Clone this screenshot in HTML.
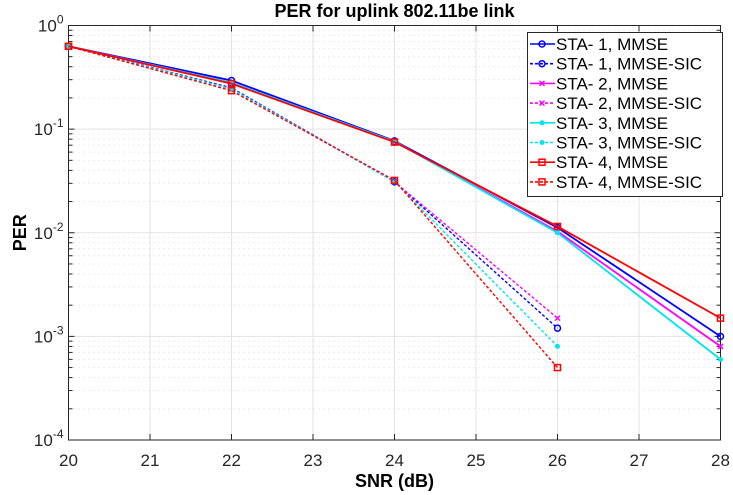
<!DOCTYPE html>
<html><head><meta charset="utf-8"><style>
body{margin:0;background:#fff;}
svg{display:block;font-family:"Liberation Sans",Arial,sans-serif;}
</style></head><body>
<svg id="c" width="733" height="495"></svg>
<script>
const snr=[20,22,24,26,28];
const sta1Mmse=[0.63,0.295,0.077,0.0112,0.001];
const sta1Sic=[0.63,0.25,0.031,0.0012];
const sta2Mmse=[0.63,0.28,0.076,0.0103,0.0008];
const sta2Sic=[0.63,0.245,0.031,0.0015];
const sta3Mmse=[0.63,0.28,0.076,0.0100,0.0006];
const sta3Sic=[0.63,0.245,0.031,0.0008];
const sta4Mmse=[0.63,0.275,0.075,0.0115,0.0015];
const sta4Sic=[0.63,0.235,0.032,0.0005];
const xTicks=[20,21,22,23,24,25,26,27,28];
const yExps=[0,-1,-2,-3,-4];
const legendLabels=["STA- 1, MMSE","STA- 1, MMSE-SIC","STA- 2, MMSE","STA- 2, MMSE-SIC","STA- 3, MMSE","STA- 3, MMSE-SIC","STA- 4, MMSE","STA- 4, MMSE-SIC"];

const L=68.5,R=720.5,T=25.5,B=440;
const X=v=>L+(v-20)/8*(R-L);
const Y=v=>T+(0-Math.log10(v))/4*(B-T);
const svg=document.getElementById('c');
const NS='http://www.w3.org/2000/svg';
function mk(tag,a,parent){const e=document.createElementNS(NS,tag);for(const k in a)e.setAttribute(k,a[k]);(parent||svg).appendChild(e);return e;}

const grid=mk('g',{});


for(let e=0;e>-4;e--){for(let m=2;m<=9;m++){const y=Y(m*Math.pow(10,e-1));mk('line',{x1:L,x2:R,y1:y,y2:y,stroke:'#d8d8d8','stroke-dasharray':'1,4'},grid);}}
xTicks.forEach(t=>{mk('line',{x1:X(t),x2:X(t),y1:T,y2:B,stroke:'#e3e3e3'},grid);});
yExps.forEach(e=>{const y=Y(Math.pow(10,e));mk('line',{x1:L,x2:R,y1:y,y2:y,stroke:'#e3e3e3'},grid);});

const ax=mk('rect',{x:L,y:T,width:R-L,height:B-T,fill:'none',stroke:'#262626'});


xTicks.forEach(t=>{
 mk('line',{x1:X(t),x2:X(t),y1:B,y2:B-6,stroke:'#262626'});
 mk('line',{x1:X(t),x2:X(t),y1:T,y2:T+6,stroke:'#262626'});
 const tx=mk('text',{x:X(t),y:B+26,'text-anchor':'middle','font-size':17,fill:'#262626'});
 tx.textContent=t;
 
 
});
for(let e=0;e>-4;e--){for(let m=2;m<=9;m++){const y=Y(m*Math.pow(10,e-1));mk('line',{x1:L,x2:L+4,y1:y,y2:y,stroke:'#262626'});mk('line',{x1:R,x2:R-4,y1:y,y2:y,stroke:'#262626'});}}
yExps.forEach(e=>{
 const y=Y(Math.pow(10,e));
 mk('line',{x1:L,x2:L+6,y1:y,y2:y,stroke:'#262626'});
 mk('line',{x1:R,x2:R-6,y1:y,y2:y,stroke:'#262626'});
 const tx=mk('text',{x:L-5,y:y+6,'text-anchor':'end','font-size':17,fill:'#262626'});
 tx.innerHTML='10<tspan dy="-8" font-size="12">'+e+'</tspan>';
 
 
});
const title=mk('text',{x:(L+R)/2,y:17,'text-anchor':'middle','font-size':18,'font-weight':'bold',fill:'#000'});
title.textContent='PER for uplink 802.11be link';


const xt=mk('text',{x:(L+R)/2,y:487,'text-anchor':'middle','font-size':18,'font-weight':'bold',fill:'#000'});
xt.textContent='SNR (dB)';


const yt=mk('text',{x:0,y:0,'text-anchor':'middle','font-size':18,'font-weight':'bold',fill:'#000',transform:'translate(26,'+((T+B)/2)+') rotate(-90)'});
yt.textContent='PER';



function marker(g,type,x,y,c){
 if(type==='o')mk('circle',{cx:x,cy:y,r:3,fill:'none',stroke:c,'stroke-width':1.5},g);
 else if(type==='x'){mk('path',{d:`M${x-2.5},${y-2.5}L${x+2.5},${y+2.5}M${x-2.5},${y+2.5}L${x+2.5},${y-2.5}`,stroke:c,'stroke-width':1.5},g);}
 else if(type==='d')mk('circle',{cx:x,cy:y,r:2.5,fill:c},g);
 else mk('rect',{x:x-3,y:y-3,width:6,height:6,fill:'none',stroke:c,'stroke-width':1.5},g);
}
const series=[
 [sta1Mmse,'#0000ff','','o'],[sta1Sic,'#0000ff','3,2','o'],
 [sta2Mmse,'#ff00ff','','x'],[sta2Sic,'#ff00ff','3,2','x'],
 [sta3Mmse,'#00e5ee','','d'],[sta3Sic,'#00e5ee','3,2','d'],
 [sta4Mmse,'#ff0000','','s'],[sta4Sic,'#ff0000','3,2','s']];
const names=['sta1-mmse','sta1-mmse-sic','sta2-mmse','sta2-mmse-sic','sta3-mmse','sta3-mmse-sic','sta4-mmse','sta4-mmse-sic'];
series.forEach((s,i)=>{
 const g=mk('g',{});
 
 
 const pts=s[0].map((v,j)=>X(snr[j])+','+Y(v)).join(' ');
 mk('polyline',{points:pts,fill:'none',stroke:s[1],'stroke-width':s[2]?1.4:1.8,'stroke-dasharray':s[2]},g);
 s[0].forEach((v,j)=>marker(g,s[3],X(snr[j]),Y(v),s[1]));
});

const lg=mk('g',{});


mk('rect',{x:527.5,y:32.5,width:195,height:164,fill:'#fff',stroke:'#262626'},lg);
series.forEach((s,i)=>{
 const y=44+i*19.7;
 const e=mk('g',{},lg);
 
 
 mk('line',{x1:530,x2:555,y1:y,y2:y,stroke:s[1],'stroke-width':1.6,'stroke-dasharray':s[2]},e);
 marker(e,s[3],542,y,s[1]);
 const t=mk('text',{x:556,y:y+6,'font-size':17,fill:'#000'},e);
 t.textContent=legendLabels[i];
});
</script>
</body></html>
